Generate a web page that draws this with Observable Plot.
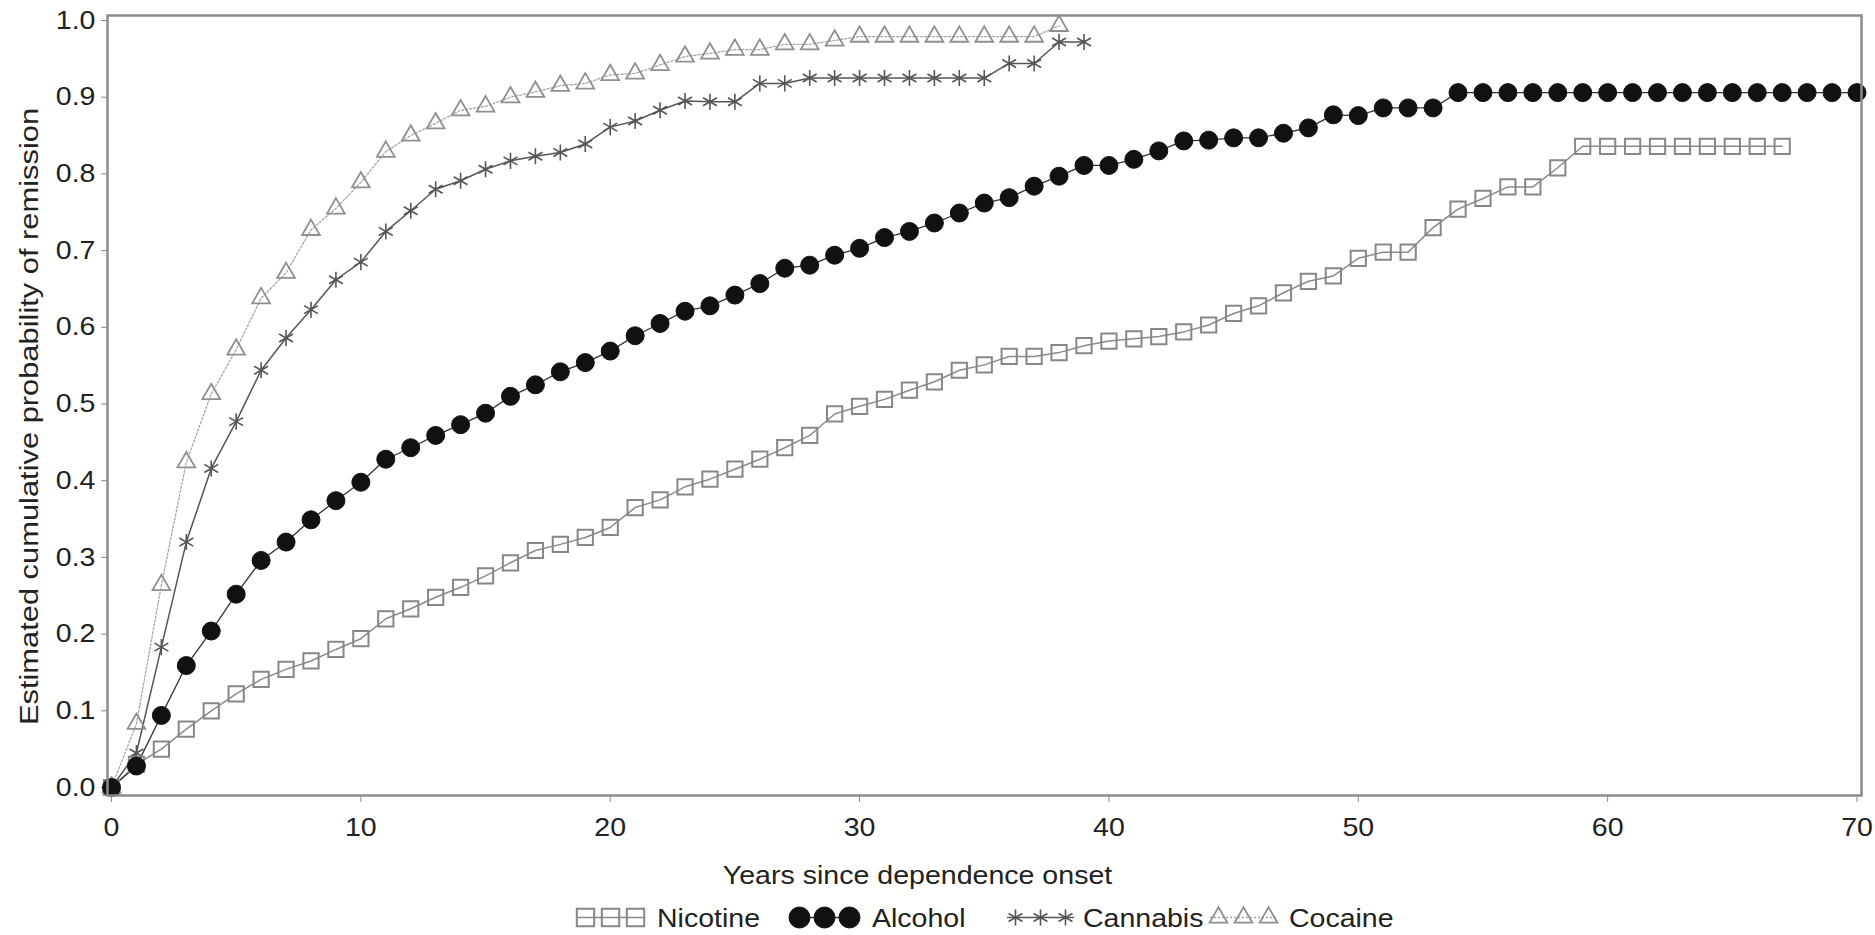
<!DOCTYPE html>
<html><head><meta charset="utf-8">
<script src="https://cdn.jsdelivr.net/npm/d3@7"></script>
<script src="https://cdn.jsdelivr.net/npm/@observablehq/plot@0.6"></script>
<style>
html,body{margin:0;padding:0;background:#fff;}
#chart svg,#legend svg{display:block;}
</style></head><body>
<div id="chart"></div>
<div id="legend"></div>
<script>
// ---------------- data (index = years since onset) ----------------
const seriesNames = ["Nicotine", "Alcohol", "Cannabis", "Cocaine"];
const nicotine = [0, 0.03, 0.050, 0.076, 0.100, 0.122, 0.141, 0.154, 0.165, 0.180,
  0.194, 0.220, 0.233, 0.248, 0.261, 0.276, 0.293, 0.309, 0.317, 0.326,
  0.339, 0.365, 0.375, 0.392, 0.402, 0.415, 0.428, 0.443, 0.459, 0.487,
  0.497, 0.506, 0.518, 0.529, 0.544, 0.551, 0.562, 0.562, 0.567, 0.576,
  0.582, 0.585, 0.588, 0.594, 0.603, 0.618, 0.628, 0.645, 0.660, 0.667,
  0.690, 0.698, 0.698, 0.730, 0.754, 0.768, 0.783, 0.783, 0.808, 0.836,
  0.836, 0.836, 0.836, 0.836, 0.836, 0.836, 0.836, 0.836];
const alcohol = [0, 0.028, 0.094, 0.159, 0.204, 0.252, 0.296, 0.320, 0.349, 0.374,
  0.398, 0.428, 0.443, 0.459, 0.473, 0.488, 0.510, 0.525, 0.542, 0.554,
  0.569, 0.589, 0.605, 0.621, 0.628, 0.642, 0.657, 0.677, 0.681, 0.694,
  0.703, 0.717, 0.725, 0.736, 0.749, 0.762, 0.769, 0.784, 0.797, 0.811,
  0.811, 0.819, 0.830, 0.843, 0.844, 0.847, 0.847, 0.853, 0.860, 0.877,
  0.876, 0.886, 0.886, 0.886, 0.906, 0.906, 0.906, 0.906, 0.906, 0.906,
  0.906, 0.906, 0.906, 0.906, 0.906, 0.906, 0.906, 0.906, 0.906, 0.906, 0.906];
const cannabis = [0, 0.045, 0.183, 0.320, 0.416, 0.477, 0.544, 0.586, 0.623, 0.662,
  0.685, 0.725, 0.752, 0.780, 0.791, 0.806, 0.817, 0.823, 0.828, 0.839,
  0.861, 0.869, 0.883, 0.895, 0.894, 0.894, 0.918, 0.918, 0.925, 0.925,
  0.925, 0.925, 0.925, 0.925, 0.925, 0.925, 0.944, 0.944, 0.972, 0.972];
const cocaine = [0, 0.083, 0.264, 0.424, 0.513, 0.571, 0.638, 0.671, 0.727, 0.755,
  0.789, 0.829, 0.850, 0.866, 0.883, 0.888, 0.900, 0.907, 0.915, 0.918,
  0.929, 0.931, 0.942, 0.953, 0.957, 0.962, 0.962, 0.969, 0.969, 0.974,
  0.979, 0.979, 0.979, 0.979, 0.979, 0.979, 0.979, 0.979, 0.993];
const xTicks = [0, 10, 20, 30, 40, 50, 60, 70];
const yTicks = [0, 0.1, 0.2, 0.3, 0.4, 0.5, 0.6, 0.7, 0.8, 0.9, 1.0];
const xLabel = "Years since dependence onset";
const yLabel = "Estimated cumulative probability of remission";

// ---------------- styles ----------------
const styles = {
  Nicotine: {symbol: "square",   r: 8.6, stroke: "#878787", fill: "none",    sw: 2.0, line: "#8a8a8a", lw: 1.5, dash: null, lr: 9.8},
  Alcohol:  {symbol: "circle",   r: 9.0, stroke: "#111",    fill: "#111",    sw: 1.0, line: "#333",    lw: 1.3, dash: null, lr: 10.5},
  Cannabis: {symbol: "asterisk", r: 7.6, stroke: "#555",    fill: "none",    sw: 1.6, line: "#555",    lw: 1.5, dash: null, lr: 7.6},
  Cocaine:  {symbol: "triangle", r: 6.6, stroke: "#8f8f8f", fill: "none",    sw: 1.8, line: "#a5a5a5", lw: 1.3, dash: "2,2", lr: 6.6}
};
const valuesBySeries = {Nicotine: nicotine, Alcohol: alcohol, Cannabis: cannabis, Cocaine: cocaine};
const rows = seriesNames.flatMap(s => valuesBySeries[s].map((v, i) => ({series: s, year: i, value: v})));

const FONT = "'Liberation Sans', Arial, Helvetica, sans-serif";
const W = 1875, H = 895;
const lineOrder = ["Cocaine", "Cannabis", "Nicotine", "Alcohol"];
const marks = [];
for (const s of lineOrder) {
  const st = styles[s];
  marks.push(Plot.line(rows.filter(d => d.series === s), {x: "year", y: "value", stroke: st.line, strokeWidth: st.lw, strokeDasharray: st.dash}));
}
for (const s of lineOrder) {
  const st = styles[s];
  marks.push(Plot.dot(rows.filter(d => d.series === s), {x: "year", y: "value", symbol: st.symbol, r: st.r, stroke: st.stroke, fill: st.fill, strokeWidth: st.sw}));
}

const chart = Plot.plot({
  width: W, height: H,
  marginLeft: 107, marginRight: 14, marginTop: 15, marginBottom: H - 795,
  style: {fontFamily: FONT, fontSize: "25.5px", color: "#222", background: "#fff", overflow: "visible"},
  x: {domain: [0, 70], insetLeft: 4, insetRight: 4.5},
  y: {domain: [0, 1], insetTop: 5, insetBottom: 8},
  marks: [
    Plot.axisX({ticks: xTicks, tickSize: 7, tickPadding: 15, stroke: "#888", fill: "#222", label: null, tickFormat: d => String(d)}),
    Plot.axisY({ticks: yTicks, tickSize: 6, tickPadding: 6, stroke: "#888", fill: "#222", label: null, tickFormat: d3.format(".1f")}),
    ...marks,
    Plot.frame({stroke: "#8c8c8c", strokeWidth: 2.5}),
    Plot.text([xLabel], {text: d => d, frameAnchor: "bottom", textAnchor: "middle", dx: -67, dy: 88, lineAnchor: "bottom", fill: "#222", className: "xtitle"}),
    Plot.text([yLabel], {text: d => d, frameAnchor: "left", textAnchor: "middle", rotate: -90, dx: -70, dy: 11, lineAnchor: "bottom", fill: "#222", className: "ytitle"})
  ]
});
document.getElementById("chart").appendChild(chart);

// the source figure's lettering is horizontally wide: stretch each label about its anchor
chart.querySelectorAll("text").forEach(t => {
  const k = t.closest(".ytitle") ? 1.21 : 1.12;
  t.setAttribute("transform", (t.getAttribute("transform") || "") + ` scale(${k},1)`);
});

// ---------------- legend (below the chart) ----------------
const legendLayout = [ // symbol block left edge, text left edge
  {sym: 573, txt: 657},
  {sym: 787, txt: 872},
  {sym: 1003, txt: 1083},
  {sym: 1206, txt: 1289}
];
const lg = d3.select("#legend").append("svg").attr("width", W).attr("height", 40)
  .style("font-family", FONT).style("font-size", "26.5px");
const symbolMap = {square: d3.symbolSquare, circle: d3.symbolCircle, asterisk: d3.symbolAsterisk, triangle: d3.symbolTriangle};
seriesNames.forEach((s, i) => {
  const st = styles[s], L = legendLayout[i];
  const g = lg.append("g").attr("transform", `translate(${L.sym},22.5)`);
  g.append("line").attr("x1", 4).attr("x2", 71).attr("stroke", st.line).attr("stroke-width", st.lw).attr("stroke-dasharray", st.dash);
  [12.5, 37.5, 62.5].forEach(cx => {
    g.append("path").attr("transform", `translate(${cx},0)`)
      .attr("d", d3.symbol(symbolMap[st.symbol], Math.PI * st.lr * st.lr)())
      .attr("fill", st.fill).attr("stroke", st.stroke).attr("stroke-width", st.sw);
  });
  lg.append("text").attr("transform", `translate(${L.txt},32) scale(1.076,1)`).attr("fill", "#222").text(s);
});
</script>
</body></html>
